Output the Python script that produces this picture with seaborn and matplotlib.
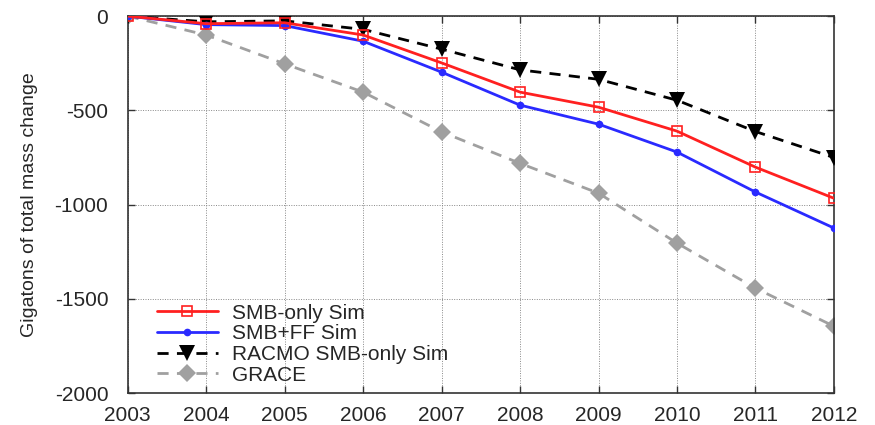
import matplotlib
matplotlib.use("Agg")
import matplotlib.pyplot as plt
import seaborn as sns

# Cumulative mass change (Gt)
years = [2003, 2004, 2005, 2006, 2007, 2008, 2009, 2010, 2011, 2012]
smb_only = [0, -40, -35, -100, -248, -403, -483, -610, -801, -966]
smb_ff = [0, -45, -50, -133, -297, -472, -573, -721, -933, -1124]
racmo = [0, -30, -25, -70, -175, -285, -335, -446, -612, -750]
grace = [0, -100, -253, -403, -614, -781, -939, -1204, -1443, -1645]

sns.set_theme(style="ticks")
plt.rcParams["font.family"] = ["Liberation Sans", "DejaVu Sans"]
plt.rcParams["axes.unicode_minus"] = False

fig = plt.figure(figsize=(8.75, 4.25), dpi=100)
ax = fig.add_axes([0.146, 0.075, 0.807, 0.887])

sns.lineplot(x=years, y=grace, ax=ax, color="#a0a0a0", linestyle=(0, (4, 3)),
             linewidth=2, marker="D", markersize=9, markeredgewidth=0,
             label="GRACE", zorder=2)
sns.lineplot(x=years, y=racmo, ax=ax, color="black", linestyle=(0, (4, 3)),
             linewidth=2, marker="v", markersize=11, markeredgewidth=0,
             label="RACMO SMB-only Sim", zorder=3)
sns.lineplot(x=years, y=smb_ff, ax=ax, color="#2a2aff", linewidth=2,
             marker="o", markersize=5.5, markeredgewidth=0,
             label="SMB+FF Sim", zorder=4)
sns.lineplot(x=years, y=smb_only, ax=ax, color="#ff2020", linewidth=2,
             marker="s", markersize=6.5, markerfacecolor="none",
             markeredgecolor="#ff2020", markeredgewidth=1.2,
             label="SMB-only Sim", zorder=5)

ax.set_xlim(2003, 2012)
ax.set_ylim(-2000, 0)
ax.set_xticks(years)
ax.set_yticks([0, -500, -1000, -1500, -2000])
ax.set_xticklabels([str(y) for y in years])
ax.tick_params(direction="in", length=5, width=1, labelsize=15,
               top=True, right=True, color="#333333")
ax.tick_params(axis="x", pad=9)
ax.tick_params(axis="y", pad=14)
ax.grid(True, linestyle=(0, (1, 1.5)), color="#888888", linewidth=0.7)
for sp in ax.spines.values():
    sp.set_linewidth(1.2)
    sp.set_color("#333333")

ax.set_ylabel("Gigatons of total mass change", fontsize=14, labelpad=12)
ax.set_xlabel("")

handles, labels = ax.get_legend_handles_labels()
order = [3, 2, 1, 0]
ax.legend([handles[i] for i in order], [labels[i] for i in order],
          loc="lower left", bbox_to_anchor=(0.03, 0.0), frameon=False,
          fontsize=15, handlelength=2.9, handletextpad=0.7,
          labelspacing=0.08, borderaxespad=0.2, borderpad=0.2)

fig.savefig("out.png", dpi=100)
